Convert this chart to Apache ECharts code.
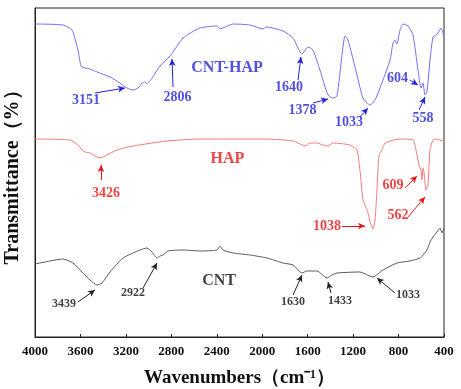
<!DOCTYPE html>
<html>
<head>
<meta charset="utf-8">
<script src="https://cdn.jsdelivr.net/npm/echarts@6/dist/echarts.min.js"></script>
<style>
  html, body { margin: 0; padding: 0; background: #fff; }
  #main { width: 461px; height: 389px; }
</style>
</head>
<body>
<div id="main"></div>
<script>
// x ticks
var xTicks = [4000, 3600, 3200, 2800, 2400, 2000, 1600, 1200, 800, 400];

// CNT-HAP spectrum (wavenumber, transmittance in arbitrary offset units)
var cntHapW = [4000, 3754, 3674, 3622, 3595, 3560, 3516, 3454, 3340, 3252, 3190, 3137, 3093, 3058, 3032, 3014, 2970, 2900, 2812, 2785, 2697, 2548, 2398, 2372, 2257, 2108, 1993, 1967, 1817, 1729, 1650, 1597, 1553, 1492, 1421, 1377, 1342, 1298, 1271, 1245, 1166, 1113, 1051, 1007, 937, 875, 849, 831, 814, 787, 761, 717, 673, 629, 602, 585, 567, 550, 523, 497, 470, 453, 426, 400];
var cntHapT = [313, 312, 307, 287, 271, 269, 268, 265, 260, 254, 249, 247, 249, 254, 255, 253, 259, 271, 281, 285, 299, 309, 311, 308, 313, 312, 308, 310, 306, 299, 283, 290, 287, 267, 242, 239, 241, 282, 301, 297, 262, 239, 232, 237, 257, 277, 294, 297, 293, 307, 313, 311, 302, 267, 249, 254, 242, 245, 277, 300, 302, 304, 309, 301];

// HAP spectrum
var hapW = [4000, 3692, 3622, 3586, 3560, 3516, 3428, 3366, 3278, 3137, 2838, 2548, 1958, 1729, 1667, 1624, 1580, 1518, 1465, 1421, 1377, 1227, 1166, 1140, 1113, 1095, 1078, 1069, 1051, 1025, 1007, 990, 972, 946, 919, 875, 787, 673, 638, 620, 602, 594, 585, 576, 559, 541, 523, 497, 462, 435, 400];
var hapT = [198, 197, 192, 187, 185, 184, 179, 182, 187, 191, 196, 198, 198, 196, 193, 191, 194, 194, 192, 191, 194, 192, 187, 167, 137, 132, 127, 124, 115, 108, 117, 147, 182, 187, 194, 196, 198, 197, 182, 172, 167, 157, 169, 165, 147, 152, 187, 197, 198, 197, 196];

// CNT spectrum
var cntW = [4000, 3868, 3754, 3666, 3586, 3516, 3454, 3410, 3340, 3225, 3076, 3014, 2970, 2926, 2900, 2873, 2829, 2697, 2548, 2398, 2372, 2345, 2257, 2108, 1958, 1817, 1729, 1650, 1606, 1518, 1430, 1386, 1342, 1140, 1025, 937, 814, 700, 611, 550, 523, 497, 462, 435, 418, 400];
var cntT = [73, 76, 78, 74, 65, 57, 52, 54, 65, 79, 87, 89, 85, 79, 81, 82, 86, 87, 86, 87, 91, 87, 84, 82, 79, 74, 72, 64, 66, 66, 59, 62, 64, 65, 60, 67, 74, 76, 79, 87, 95, 100, 105, 109, 104, 109];

// annotations: text, label position [w, t], arrow from [w, t] to [w, t]
var cntHapNotes = [
  ['3151', [3551, 237], [3472, 244], [3208, 249]],
  ['2806', [2746, 240], [2785, 250], [2794, 278]],
  ['1640', [1764, 250], [1685, 257], [1659, 280]],
  ['1378', [1646, 227], [1553, 234], [1421, 238]],
  ['1033', [1236, 215], [1140, 220], [1069, 229]],
  ['604', [809, 259], [700, 257], [629, 252]],
  ['558', [585, 219], [620, 227], [567, 240]]
];
var hapNotes = [
  ['3426', [3375, 144], [3419, 157], [3419, 172]],
  ['1038', [1430, 111], [1298, 111], [1095, 111]],
  ['609', [849, 152], [743, 149], [638, 161]],
  ['562', [805, 122], [717, 120], [567, 140]]
];
var cntNotes = [
  ['3439', [3745, 33], [3622, 35], [3472, 47]],
  ['2922', [3137, 44], [3049, 49], [2926, 74]],
  ['1630', [1729, 35], [1729, 42], [1650, 62]],
  ['1433', [1315, 36], [1395, 44], [1421, 55]],
  ['1033', [717, 42], [831, 44], [990, 59]]
];
var sampleNames = [['CNT-HAP', [2310, 269]], ['HAP', [2306, 178]], ['CNT', [2380, 56]]];

var serif = 'Liberation Serif, Times New Roman, serif';
var blueLine = '#6f6ff5', blueText = '#2424e0';
var redLine = '#f47a7a', redText = '#ee1515';
var greyLine = '#5a5a5a', blackText = '#111';

function pairs(w, t) {
  var out = [];
  for (var i = 0; i < w.length; i++) out.push([w[i], t[i]]);
  return out;
}

function arrows(notes, color) {
  return {
    silent: true,
    symbol: ['none', 'arrow'],
    symbolSize: [5, 7],
    lineStyle: { color: color, width: 1, type: 'solid' },
    label: { show: false },
    emphasis: { disabled: true },
    animation: false,
    data: notes.map(function (n) {
      return [{ coord: n[2] }, { coord: n[3] }];
    })
  };
}

function labelSeries(notes, color, size) {
  return {
    type: 'scatter',
    symbolSize: 0,
    silent: true,
    data: notes.map(function (n) { return { value: n[1], name: n[0] }; }),
    label: {
      show: true,
      position: 'inside',
      formatter: '{b}',
      color: color,
      fontFamily: serif,
      fontWeight: 'bold',
      fontSize: size
    },
    z: 5
  };
}

function spectrum(name, w, t, color, notes, textColor) {
  return {
    name: name,
    type: 'line',
    data: pairs(w, t),
    symbol: 'none',
    smooth: 0.2,
    lineStyle: { color: color, width: 1 },
    markLine: arrows(notes, textColor),
    z: 3
  };
}

var chart = echarts.init(document.getElementById('main'));
chart.setOption({
  animation: false,
  grid: {
    left: 35, right: 17, top: 8, bottom: 52,
    outerBoundsMode: 'none',
    containLabel: false,
    show: true, borderColor: '#222', borderWidth: 1, backgroundColor: 'transparent'
  },
  xAxis: {
    type: 'value',
    inverse: true,
    min: 400,
    max: 4000,
    interval: 400,
    name: 'Wavenumbers（cm⁻¹）',
    nameLocation: 'middle',
    nameGap: 32,
    nameTextStyle: { fontFamily: serif, fontWeight: 'bold', fontSize: 19, color: '#111' },
    axisLine: { lineStyle: { color: '#222', width: 1 } },
    axisTick: { inside: true, length: 3, lineStyle: { color: '#222' } },
    axisLabel: {
      fontFamily: serif, fontWeight: 'bold', fontSize: 13, color: '#111', margin: 8,
      formatter: function (v) { return xTicks.indexOf(v) >= 0 ? String(v) : ''; }
    },
    splitLine: { show: false }
  },
  yAxis: {
    type: 'value',
    min: 0,
    max: 329,
    name: 'Transmittance（%）',
    nameLocation: 'middle',
    nameRotate: 90,
    nameGap: 12,
    nameTextStyle: { fontFamily: serif, fontWeight: 'bold', fontSize: 20, color: '#111' },
    axisLine: { show: true, lineStyle: { color: '#222', width: 1 } },
    axisTick: { show: false },
    axisLabel: { show: false },
    splitLine: { show: false }
  },
  series: [
    spectrum('CNT-HAP', cntHapW, cntHapT, blueLine, cntHapNotes, blueText),
    spectrum('HAP', hapW, hapT, redLine, hapNotes, redText),
    spectrum('CNT', cntW, cntT, greyLine, cntNotes, '#222'),
    labelSeries(cntHapNotes, blueText, 14),
    labelSeries(hapNotes, redText, 14),
    labelSeries(cntNotes, blackText, 12),
    {
      type: 'scatter',
      symbolSize: 0,
      silent: true,
      data: sampleNames.map(function (s, i) {
        return {
          value: s[1], name: s[0],
          label: { color: [blueText, redText, blackText][i] }
        };
      }),
      label: {
        show: true, position: 'inside', formatter: '{b}',
        fontFamily: serif, fontWeight: 'bold', fontSize: 16
      },
      z: 5
    }
  ]
});
</script>
</body>
</html>
